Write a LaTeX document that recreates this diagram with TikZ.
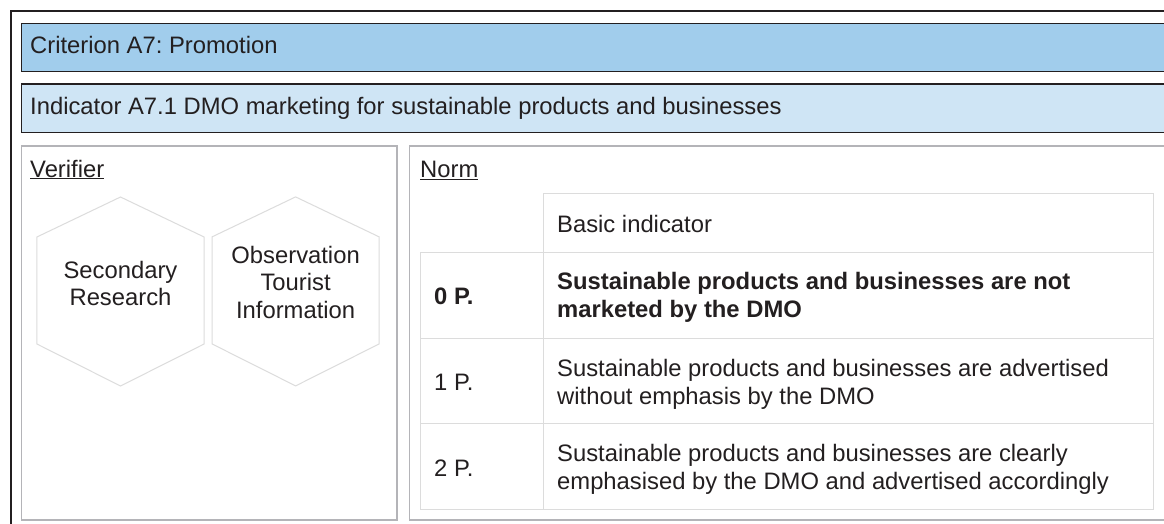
\documentclass[tikz,border=0pt]{standalone}
\usepackage{fontspec}
\setmainfont{Liberation Sans}
\usepackage{tikz}
\usetikzlibrary{positioning}
\frenchspacing
\definecolor{critblue}{HTML}{A1CDEC}
\definecolor{indblue}{HTML}{CFE5F5}
\definecolor{framegray}{HTML}{B4B4B8}
\definecolor{cellgray}{HTML}{DCDCDC}
\definecolor{inkdark}{HTML}{231F20}
\tikzset{
  outerframe/.style={ draw=inkdark, line width=2pt }
}
\tikzset{
  headbox/.style={ draw=inkdark, line width=1.4pt }
}
\tikzset{
  panel/.style={ draw=framegray, line width=1.6pt }
}
\tikzset{
  hexA/.style={ draw=cellgray, line width=1pt }
}
\tikzset{
  cellline/.style={ draw=cellgray, line width=1pt }
}
\tikzset{
  txt/.style={ inner sep=0pt, text=inkdark, font=\fontsize{23.8}{27.3}\selectfont }
}

\begin{document}
\begin{tikzpicture}[x=1pt, y=-1pt]
        \useasboundingbox (0,0) rectangle (1164,524);
        \clip (0,0) rectangle (1164,524);
        \fill[white] (0,0) rectangle (1164,524);
        % frame and header bars
        \draw[outerframe] (11,11.5) rectangle (1200,560);
        \draw[headbox, fill=critblue] (21.3,23.8) rectangle (1200,71.6);
        \draw[headbox, fill=indblue] (21.3,84) rectangle (1200,132.7);
        \node[txt, anchor=base west] (crit) at (30,54) {Criterion A7: Promotion};
        \node[txt, anchor=base west] (ind) at (30,115) {Indicator A7.1 DMO marketing for sustainable products and businesses};
        % verifier panel
        \draw[panel] (21.3,146) rectangle (397,520);
        \node[txt, anchor=base west] (ver) at (30,177) {\underline{Verifier}};
        \coordinate (hA) at (120.5,291.5);
        \coordinate (hB) at (295.6,291.4);
        \draw[hexA, shift={(hA)}] (0,-94.5) -- (83.6,-54.5) -- (83.6,52.5) -- (0,94.5) -- (-83.6,52.5) -- (-83.6,-54.5) -- cycle;
        \draw[hexA, shift={(hB)}] (0,-94.5) -- (83.6,-54.5) -- (83.6,52.5) -- (0,94.5) -- (-83.6,52.5) -- (-83.6,-54.5) -- cycle;
        \node[txt, align=center] (sec) at (120.5,283.2) {Secondary\\Research};
        \node[txt, align=center] (obs) at (295.6,282.2) {Observation\\Tourist\\Information};
        % norm panel
        \draw[panel] (409.5,146) rectangle (1200,520);
        \node[txt, anchor=base west] (norm) at (420,177.5) {\underline{Norm}};
        \coordinate (t0) at (543,193);
        \coordinate (t1) at (1153.5,193);
        \coordinate (l0) at (420,252);
        \coordinate (l3) at (420,509);
        \coordinate (r3) at (1153.5,509);
        \draw[cellline] (t0) -- (t1) -- (r3) -- (l3) -- (l0);
        \draw[cellline] (t0) -- (543,509);
        \foreach \yy in {252,338,423}
          \draw[cellline] (420,\yy) -- (1153.5,\yy);
        \node[txt, anchor=base west] (basic) at (557,232.7) {Basic indicator};
        \node[txt, anchor=base west] (p0) at (434,304) {\bfseries 0 P.};
        \node[txt, anchor=base west] (p1) at (434,390) {1 P.};
        \node[txt, anchor=base west] (p2) at (434,476) {2 P.};
        \node[txt, align=left, anchor=north west] (n0) at (557,272.3) {\bfseries Sustainable products and businesses are not\\\bfseries marketed by the DMO};
        \node[txt, align=left, anchor=north west] (n1) at (557,359.4) {Sustainable products and businesses are advertised\\without emphasis by the DMO};
        \node[txt, align=left, anchor=north west] (n2) at (557,444.4) {Sustainable products and businesses are clearly\\emphasised by the DMO and advertised accordingly};
      \end{tikzpicture}
\end{document}
